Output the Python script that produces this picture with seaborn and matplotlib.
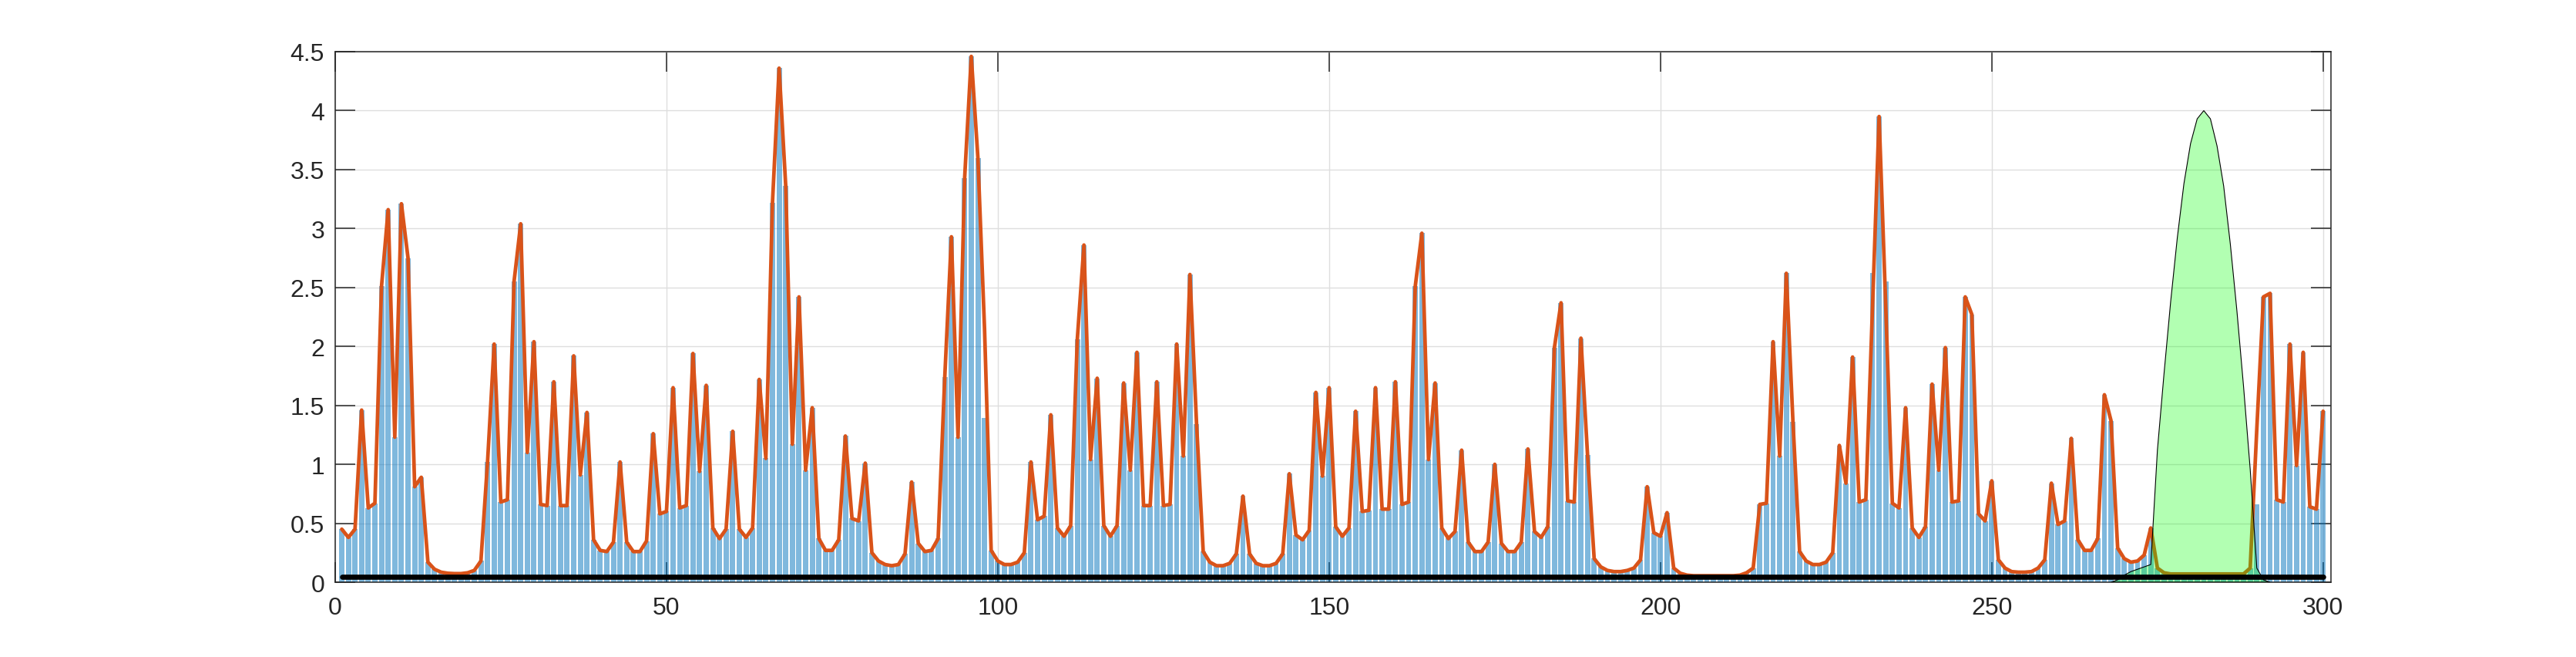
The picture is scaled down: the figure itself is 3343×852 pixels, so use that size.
# Bar spectrum with envelope line and a highlighted peak window
import numpy as np
import seaborn as sns
import matplotlib
matplotlib.use("Agg")
import matplotlib.pyplot as plt


# bar heights, x = 1..300
bar_x = np.arange(1, 301)
bar_heights = [
    0.45, 0.38, 0.45, 1.46, 0.63, 0.67, 2.51, 3.16, 1.23, 3.21,
    2.75, 0.81, 0.89, 0.17, 0.11, 0.085, 0.076, 0.073, 0.073, 0.08,
    0.10, 0.18, 1.02, 2.02, 0.68, 0.70, 2.55, 3.04, 1.10, 2.04,
    0.66, 0.65, 1.70, 0.65, 0.65, 1.92, 0.91, 1.44, 0.36, 0.27,
    0.26, 0.34, 1.02, 0.34, 0.26, 0.26, 0.35, 1.26, 0.58, 0.60,
    1.65, 0.63, 0.65, 1.94, 0.94, 1.67, 0.46, 0.37, 0.45, 1.28,
    0.45, 0.38, 0.46, 1.72, 1.05, 3.22, 4.36, 3.36, 1.17, 2.42,
    0.95, 1.48, 0.37, 0.27, 0.27, 0.36, 1.24, 0.54, 0.52, 1.01,
    0.25, 0.18, 0.15, 0.14, 0.15, 0.24, 0.85, 0.33, 0.26, 0.27,
    0.37, 1.74, 2.93, 1.23, 3.43, 4.46, 3.60, 1.39, 0.27, 0.18,
    0.15, 0.15, 0.17, 0.25, 1.02, 0.53, 0.56, 1.42, 0.46, 0.39,
    0.48, 2.06, 2.86, 1.04, 1.73, 0.48, 0.39, 0.48, 1.69, 0.95,
    1.95, 0.65, 0.65, 1.70, 0.65, 0.66, 2.02, 1.07, 2.61, 1.34,
    0.26, 0.17, 0.14, 0.14, 0.16, 0.24, 0.73, 0.24, 0.16, 0.14,
    0.14, 0.16, 0.24, 0.92, 0.40, 0.36, 0.44, 1.61, 0.90, 1.65,
    0.47, 0.39, 0.46, 1.45, 0.60, 0.61, 1.65, 0.62, 0.62, 1.70,
    0.66, 0.68, 2.51, 2.96, 1.04, 1.69, 0.46, 0.37, 0.43, 1.12,
    0.34, 0.26, 0.26, 0.34, 1.00, 0.33, 0.26, 0.26, 0.34, 1.13,
    0.43, 0.38, 0.47, 1.99, 2.37, 0.69, 0.68, 2.07, 1.08, 0.20,
    0.13, 0.10, 0.09, 0.09, 0.10, 0.12, 0.19, 0.81, 0.42, 0.39,
    0.59, 0.12, 0.076, 0.06, 0.055, 0.055, 0.055, 0.055, 0.055, 0.055,
    0.055, 0.06, 0.08, 0.12, 0.66, 0.67, 2.04, 1.07, 2.62, 1.36,
    0.26, 0.18, 0.15, 0.15, 0.17, 0.25, 1.16, 0.84, 1.91, 0.68,
    0.70, 2.62, 3.95, 2.55, 0.67, 0.63, 1.48, 0.46, 0.38, 0.47,
    1.68, 0.95, 1.99, 0.68, 0.69, 2.42, 2.27, 0.58, 0.52, 0.86,
    0.19, 0.12, 0.09, 0.085, 0.085, 0.09, 0.12, 0.19, 0.84, 0.49,
    0.52, 1.22, 0.36, 0.27, 0.27, 0.37, 1.59, 1.37, 0.29, 0.20,
    0.17, 0.18, 0.23, 0.46, 0.12, 0.08, 0.07, 0.07, 0.07, 0.07,
    0.07, 0.07, 0.07, 0.07, 0.07, 0.07, 0.07, 0.07, 0.12, 0.66,
    2.42, 2.45, 0.70, 0.68, 2.02, 0.99, 1.95, 0.64, 0.62, 1.45,
]

# points where the orange envelope does not sit on the bar top
line_fix = {98: 2.15, 232: 2.32, 234: 2.34, 290: 1.30}

# green peak window
peak_x = np.arange(268, 293)
peak_y = [0.0, 0.02, 0.06, 0.09, 0.11, 0.13, 0.15, 1.12, 1.77, 2.38,
          2.92, 3.38, 3.72, 3.93, 4.00, 3.93, 3.70, 3.36, 2.87, 2.30,
          1.66, 0.96, 0.12, 0.02, 0.0]

# black threshold line
thresh_x = [1, 300]
thresh_y = [0.048, 0.048]

x_ticks = [0, 50, 100, 150, 200, 250, 300]
y_ticks = [0, 0.5, 1, 1.5, 2, 2.5, 3, 3.5, 4, 4.5]
y_tick_labels = ["0", "0.5", "1", "1.5", "2", "2.5", "3", "3.5", "4", "4.5"]


line_vals = list(bar_heights)
for k, v in line_fix.items():
    line_vals[k - 1] = v

sns.set_style("ticks")
plt.rcParams['font.family'] = ['Liberation Sans', 'DejaVu Sans']

fig = plt.figure(figsize=(33.43, 8.53), dpi=100)
ax = fig.add_axes([0.1301, 0.1137, 0.7748, 0.8066])

sns.barplot(x=bar_x, y=bar_heights, native_scale=True, width=0.8,
            color="#0072BD", alpha=0.5, saturation=1, errorbar=None,
            linewidth=0, ax=ax, zorder=2)
sns.lineplot(x=bar_x, y=line_vals, color="#D95319", linewidth=3.4,
             solid_joinstyle="round", ax=ax, zorder=3)
ax.fill(peak_x, peak_y, facecolor=(0, 1, 0, 0.3), edgecolor="black",
        linewidth=0.8, zorder=4)
ax.plot(thresh_x, thresh_y, color="black", linewidth=4.8, zorder=5)

ax.set_xlim(0, 301.2)
ax.set_ylim(0, 4.5)
ax.set_xticks(x_ticks)
ax.set_xticklabels([str(t) for t in x_ticks])
ax.set_yticks(y_ticks)
ax.set_yticklabels(y_tick_labels)
ax.set_xlabel("")
ax.set_ylabel("")

ax.grid(True, color="#dedede", linewidth=1.0)
ax.set_axisbelow(True)
for s in ax.spines.values():
    s.set_visible(True)
    s.set_color("#262626")
    s.set_linewidth(1.1)
ax.tick_params(axis="both", direction="in", length=18.7, width=1.1,
               color="#262626", labelcolor="#262626", labelsize=23,
               top=True, right=True)
ax.tick_params(axis="x", pad=13)
ax.tick_params(axis="y", pad=10)

fig.savefig("out.png", dpi=100)
